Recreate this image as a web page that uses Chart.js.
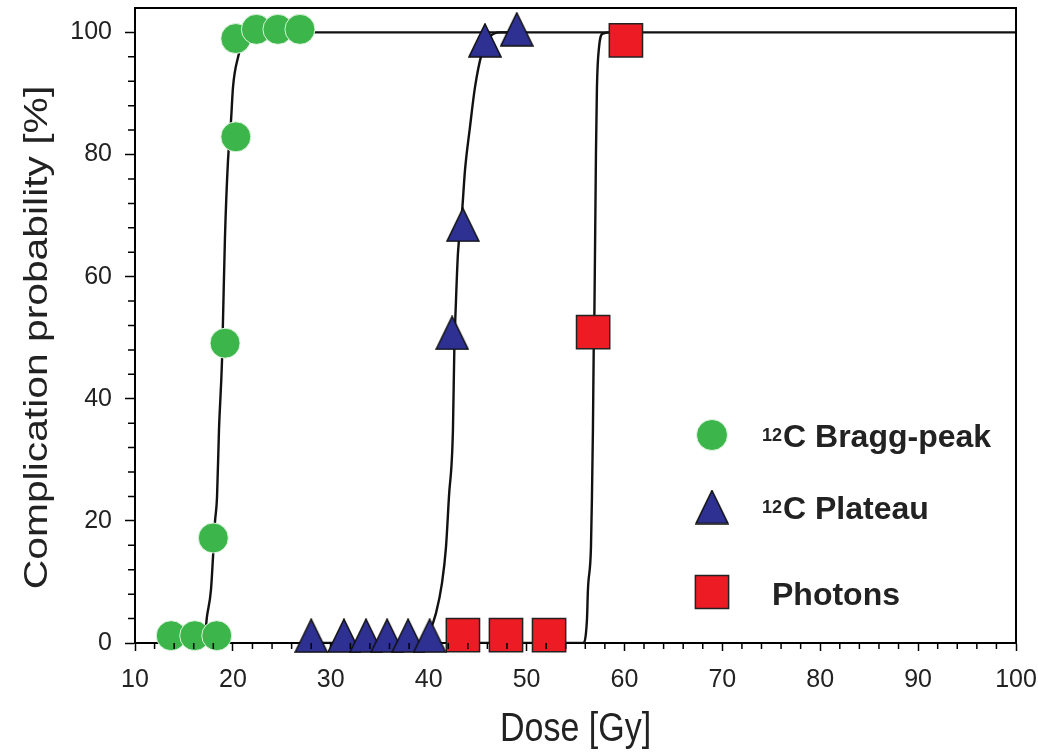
<!DOCTYPE html>
<html>
<head>
<meta charset="utf-8">
<title>Complication probability vs dose</title>
<script src="https://cdn.jsdelivr.net/npm/chart.js@4.4.1/dist/chart.umd.min.js"></script>
<style>
    html, body { margin: 0; padding: 0; background: #fff; }
    #wrap { width: 1038px; height: 753px; }
</style>
</head>
<body>
<div id="wrap"><canvas id="chart"></canvas></div>
<script>
// measured points
const braggX = [13.7, 16.1, 18.35, 18.0, 19.2, 20.3, 20.3, 22.4, 24.6, 26.85];
const braggY = [1.2, 1.2, 1.2, 17.2, 49.1, 82.9, 99.0, 100.5, 100.5, 100.5];

const plateauX = [28.0, 31.35, 33.6, 35.75, 37.9, 40.1, 42.4, 43.5, 45.75, 49.0];
const plateauY = [1.2, 1.2, 1.2, 1.2, 1.2, 1.2, 50.8, 68.5, 98.7, 100.5];

const photonX = [43.5, 47.9, 52.3, 56.8, 60.15];
const photonY = [1.3, 1.3, 1.3, 50.9, 98.7];

// fitted curves
const braggFitX = [13.7, 17.05, 17.35, 17.76, 17.97, 18.17, 18.38, 18.58, 18.89, 18.99, 19.19, 19.5, 19.81, 20.01, 20.52, 21.13, 21.95, 23.0, 100];
const braggFitY = [0, 0, 4.3, 8.7, 14.1, 19.8, 23.9, 34.9, 46.3, 52.9, 66.4, 79.0, 85.6, 91.0, 95.9, 98.7, 99.8, 100, 100];

const plateauFitX = [28.0, 39.1, 40.13, 40.75, 41.36, 41.77, 42.07, 42.48, 42.62, 42.78, 42.99, 43.4, 43.71, 44.22, 44.73, 45.44, 46.26, 47.3, 49.0];
const plateauFitY = [0, 0, 2.1, 4.9, 9.8, 15.7, 23.9, 34.9, 48.0, 55.6, 63.8, 70.4, 77.4, 84.5, 91.0, 96.6, 99.3, 100, 100];

const photonFitX = [43.5, 55.76, 56.17, 56.27, 56.58, 56.68, 56.78, 56.86, 56.93, 57.09, 57.19, 57.4, 57.8, 58.7, 60.2];
const photonFitY = [0, 0, 3.8, 8.7, 15.7, 23.9, 34.9, 48.0, 54.0, 80.2, 91.0, 97.5, 99.8, 100, 100];

const xMajor = [10, 20, 30, 40, 50, 60, 70, 80, 90, 100];
const yMajor = [0, 20, 40, 60, 80, 100];

const seriesNames = ['Bragg-peak', 'Plateau', 'Photons'];
const xTitle = 'Dose [Gy]';
const yTitle = 'Complication probability [%]';

function toPoints(xs, ys) {
    return xs.map((x, i) => ({ x: x, y: ys[i] }));
}

function makeTriangle(w, h) {
    const c = document.createElement('canvas');
    c.width = w + 2;
    c.height = h + 2;
    const g = c.getContext('2d');
    g.beginPath();
    g.moveTo(1 + w / 2, 1);
    g.lineTo(1 + w, 1 + h);
    g.lineTo(1, 1 + h);
    g.closePath();
    g.fillStyle = '#2e3192';
    g.fill();
    g.lineWidth = 1.5;
    g.strokeStyle = '#111';
    g.stroke();
    return c;
}

const triangle = makeTriangle(32, 33);
const FONT = '"Liberation Sans", Arial, Helvetica, sans-serif';

const curveStyle = {
    showLine: true,
    borderColor: '#111',
    borderWidth: 2.4,
    pointRadius: 0,
    cubicInterpolationMode: 'monotone',
    fill: false,
    order: 2
};

const framePlugin = {
    id: 'frame',
    afterDraw(chart) {
        const ctx = chart.ctx;
        const a = chart.chartArea;
        const xs = chart.scales.x;
        const ys = chart.scales.y;
        ctx.save();
        ctx.strokeStyle = '#000';
        ctx.lineWidth = 2;
        ctx.beginPath();
        ctx.moveTo(a.left, a.top);
        ctx.lineTo(a.right, a.top);
        ctx.lineTo(a.right, a.bottom);
        ctx.stroke();

        // minor ticks
        ctx.lineWidth = 1.5;
        ctx.beginPath();
        for (let v = 12; v < 100; v += 2) {
            if (v % 10 === 0) continue;
            const px = xs.getPixelForValue(v);
            ctx.moveTo(px, a.bottom);
            ctx.lineTo(px, a.bottom + 6);
        }
        for (let v = 4; v < 100; v += 4) {
            if (v % 20 === 0) continue;
            const py = ys.getPixelForValue(v);
            ctx.moveTo(a.left, py);
            ctx.lineTo(a.left - 7, py);
        }
        ctx.stroke();

        // axis titles (the original is a little stretched vertically)
        ctx.fillStyle = '#222';
        ctx.font = '34px ' + FONT;
        ctx.textAlign = 'center';
        ctx.textBaseline = 'alphabetic';
        ctx.save();
        ctx.translate((a.left + a.right) / 2, a.bottom + 98);
        ctx.scale(1, 1.2);
        ctx.fillText(xTitle, 0, 0);
        ctx.restore();
        ctx.save();
        ctx.translate(a.left - 88, (a.top + a.bottom) / 2 + 12);
        ctx.rotate(-Math.PI / 2);
        ctx.scale(1.2, 1);
        ctx.fillText(yTitle, 0, 0);
        ctx.restore();

        // legend
        const items = [
            { style: 'circle', r: 15.5, bg: '#3cb54a', border: 'rgba(235,248,235,0.9)', bw: 1, dy: 427, iso: true },
            { style: triangle, r: 16, bg: '#2e3192', border: '#111', bw: 1.5, dy: 499, iso: true },
            { style: 'rect', r: 23.5, bg: '#ed1c24', border: '#222', bw: 1.5, dy: 584, iso: false }
        ];
        const mx = a.left + 577;
        ctx.textAlign = 'left';
        items.forEach((it, i) => {
            ctx.fillStyle = it.bg;
            ctx.strokeStyle = it.border;
            ctx.lineWidth = it.bw;
            Chart.helpers.drawPoint(ctx, { pointStyle: it.style, radius: it.r, rotation: 0, borderWidth: it.bw }, mx, a.top + it.dy);
            const base = a.top + it.dy + (i === 2 ? 13 : 12);
            ctx.fillStyle = '#222';
            let tx = a.left + 627;
            if (it.iso) {
                ctx.font = 'bold 18px ' + FONT;
                ctx.fillText('12', tx, base - 6);
                tx += ctx.measureText('12').width + 1;
                ctx.font = 'bold 32px ' + FONT;
                ctx.fillText('C ' + seriesNames[i], tx, base);
            } else {
                ctx.font = 'bold 32px ' + FONT;
                ctx.fillText(seriesNames[i], a.left + 637, base);
            }
        });
        ctx.restore();
    }
};

new Chart(document.getElementById('chart'), {
    type: 'scatter',
    data: {
        datasets: [
            Object.assign({ data: toPoints(braggFitX, braggFitY) }, curveStyle),
            Object.assign({ data: toPoints(plateauFitX, plateauFitY) }, curveStyle),
            Object.assign({ data: toPoints(photonFitX, photonFitY) }, curveStyle),
            {
                label: seriesNames[0],
                data: toPoints(braggX, braggY),
                pointStyle: 'circle',
                pointRadius: 15,
                backgroundColor: '#3cb54a',
                borderColor: 'rgba(235,248,235,0.9)',
                borderWidth: 1,
                clip: false,
                order: 1
            },
            {
                label: seriesNames[1],
                data: toPoints(plateauX, plateauY),
                pointStyle: triangle,
                pointRadius: 17,
                clip: false,
                order: 1
            },
            {
                label: seriesNames[2],
                data: toPoints(photonX, photonY),
                pointStyle: 'rect',
                pointRadius: 23.5,
                backgroundColor: '#ed1c24',
                borderColor: '#222',
                borderWidth: 1.5,
                clip: false,
                order: 1
            }
        ]
    },
    options: {
        responsive: true,
        maintainAspectRatio: false,
        animation: false,
        layout: { autoPadding: false, padding: { top: 8, right: 22, left: 0, bottom: 0 } },
        plugins: {
            legend: { display: false },
            tooltip: { enabled: false }
        },
        scales: {
            x: {
                type: 'linear',
                min: 10,
                max: 100,
                afterFit(s) {
                    s.height = 110;
                    s.paddingLeft = 0;
                    s.paddingRight = 0;
                },
                ticks: {
                    stepSize: 2,
                    autoSkip: false,
                    maxRotation: 0,
                    color: '#222',
                    padding: 14,
                    font: { family: FONT, size: 25 },
                    callback: v => xMajor.includes(v) ? String(v) : ''
                },
                grid: {
                    drawOnChartArea: false,
                    tickLength: 8,
                    tickWidth: 1.5,
                    tickColor: c => xMajor.includes(c.tick.value) ? '#000' : 'transparent'
                },
                border: { color: '#000', width: 2 }
            },
            y: {
                min: 0,
                max: 104,
                afterFit(s) {
                    s.width = 135;
                    s.paddingTop = 0;
                    s.paddingBottom = 0;
                },
                ticks: {
                    stepSize: 4,
                    autoSkip: false,
                    color: '#222',
                    padding: 13,
                    font: { family: FONT, size: 25 },
                    callback: v => yMajor.includes(v) ? String(v) : ''
                },
                grid: {
                    drawOnChartArea: false,
                    tickLength: 10,
                    tickWidth: 1.5,
                    tickColor: c => yMajor.includes(c.tick.value) ? '#000' : 'transparent'
                },
                border: { color: '#000', width: 2 }
            }
        }
    },
    plugins: [framePlugin]
});
</script>
</body>
</html>
